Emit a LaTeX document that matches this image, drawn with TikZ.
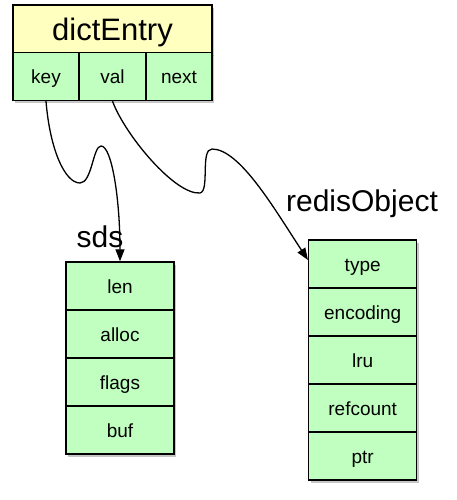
\documentclass[tikz,border=0pt]{standalone}
\usepackage{fontspec}
\setmainfont{Liberation Sans}
\usetikzlibrary{shadows}
\usetikzlibrary{arrows.meta}
\definecolor{entryyellow}{RGB}{255,255,192}
\definecolor{fieldgreen}{RGB}{192,255,192}
\tikzstyle{cell}=[rectangle,draw=black,line width=1.4pt,fill=fieldgreen,minimum height=48pt,inner sep=0pt,text height=19pt,text depth=4pt,drop shadow={opacity=0.45,shadow xshift=2pt,shadow yshift=-3pt},font=\fontsize{19}{22}\selectfont]
\tikzstyle{structname}=[font=\fontsize{30}{34}\selectfont]
\tikzstyle{pointer}=[-{Triangle[length=12pt,width=9pt]}, line width=1.3pt]

\begin{document}
\begin{tikzpicture}[x=1pt,y=-1pt]

   \useasboundingbox (0,0) rectangle (456,500);

  % dictEntry
  \node[cell,fill=entryyellow,minimum width=199pt,text height=29pt,text depth=5.5pt,font=\fontsize{31}{36}\selectfont] (dictEntry) at (112.5,29) {dictEntry};
    \foreach \pos/\name in {{(46,76.5)/key}, {(112.5,76.5)/val}, {(179,76.5)/next}}
        \node[cell,minimum width=66.3pt] (\name) at \pos {\name};

  % sds
    \foreach \y/\name in {286/len, 334/alloc, 382/flags, 430/buf}
        \node[cell,minimum width=108pt] (\name) at (120,\y) {\name};

  % redisObject
    \foreach \y/\name in {264/type, 312/encoding, 360/lru, 408/refcount, 456/ptr}
        \node[cell,minimum width=108pt] (\name) at (362.7,\y) {\name};

\node[structname] (sdslabel) at (100,237) {sds};
\node[structname] (objlabel) at (362,204) {redisObject};

\draw[pointer] (key.south) .. controls (50,150) and (65,183) .. (80,183) .. controls (92,183) and (93,146) .. (101,146) .. controls (112,146) and (120,200) .. (len.north);
\draw[pointer] (val.south) .. controls (125,135) and (175,195) .. (200,193) .. controls (210,191) and (200,149) .. (212,149) .. controls (240,149) and (275,210) .. ([yshift=4pt]type.west);

\end{tikzpicture}
\end{document}
